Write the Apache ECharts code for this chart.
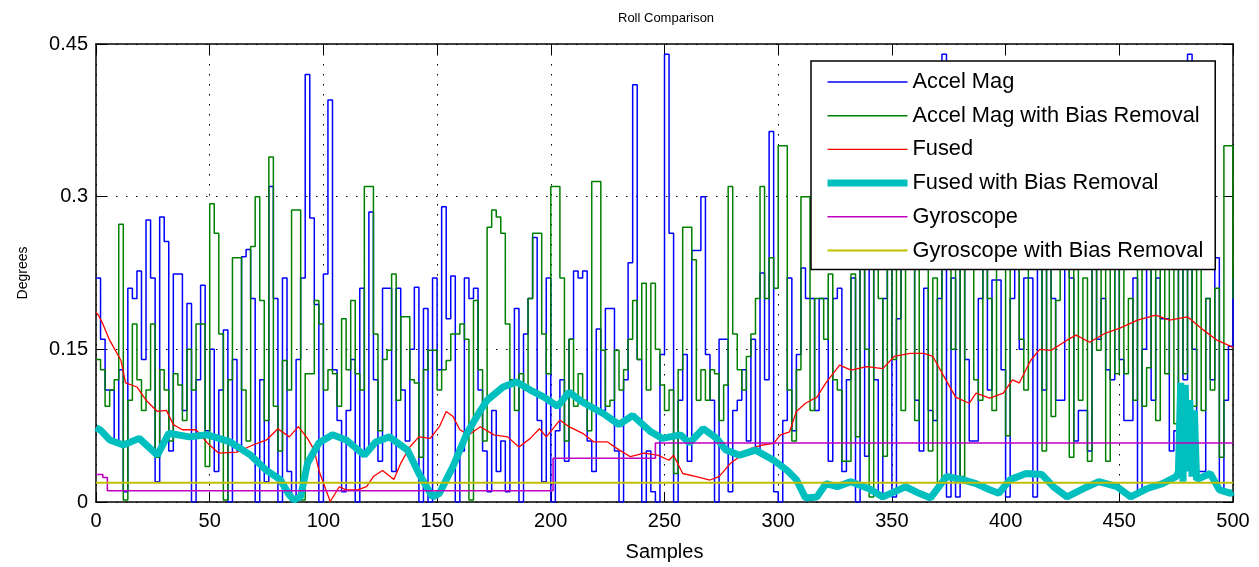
<!DOCTYPE html>
<html>
<head>
<meta charset="utf-8">
<script src="https://cdn.jsdelivr.net/npm/echarts@6/dist/echarts.min.js"></script>
<style>
html, body { margin: 0; padding: 0; background: #fff; }
#chart { width: 1259px; height: 567px; }
</style>
</head>
<body>
<div id="chart"></div>
<script>
// accel arrays are read every 2nd sample (0, 2, 4 ... 500)
const STEP = 2;

const accelMag = [
    0.22, 0.16, 0.11, 0.11, 0.06, 0.13, 0.01, 0.21, 0.20, 0.227,
    0.14, 0.277, 0.22, 0.02, 0.28, 0.256, 0.05, 0.224, 0.224, 0.09,
    0.195, 0.0, 0.12, 0.213, 0.07, 0.15, 0.03, 0.11, 0.169, 0.0,
    0.14, 0.05, 0.241, 0.248, 0.2, 0.0, 0.12, 0.02, 0.31, 0.2,
    0.0, 0.22, 0.03, 0.0, 0.14, 0.22, 0.42, 0.279, 0.194, 0.0,
    0.224, 0.395, 0.13, 0.08, 0.01, 0.09, 0.14, 0.0, 0.21, 0.05,
    0.285, 0.12, 0.04, 0.21, 0.21, 0.03, 0.21, 0.11, 0.06, 0.15,
    0.211, 0.0, 0.19, 0.0, 0.22, 0.13, 0.29, 0.18, 0.222, 0.0,
    0.05, 0.22, 0.20, 0.21, 0.11, 0.05, 0.01, 0.09, 0.03, 0.06,
    0.01, 0.12, 0.19, 0.0, 0.165, 0.2, 0.26, 0.08, 0.02, 0.22,
    0.0, 0.07, 0.12, 0.04, 0.16, 0.227, 0.22, 0.227, 0.06, 0.03,
    0.17, 0.09, 0.19, 0.19, 0.05, 0.0, 0.12, 0.235, 0.41, 0.14,
    0.0, 0.05, 0.01, 0.0, 0.145, 0.44, 0.264, 0.0, 0.1, 0.145,
    0.04, 0.247, 0.247, 0.30, 0.145, 0.10, 0.0, 0.16, 0.16, 0.01,
    0.09, 0.10, 0.13, 0.06, 0.16, 0.05, 0.225, 0.12, 0.364, 0.01,
    0.0, 0.08, 0.22, 0.07, 0.145, 0.23, 0.2, 0.2, 0.09, 0.2,
    0.2, 0.04, 0.2, 0.21, 0.03, 0.12, 0.22, 0.0, 0.25, 0.045,
    0.27, 0.12, 0.005, 0.2, 0.24, 0.005, 0.18, 0.26, 0.24, 0.25,
    0.1, 0.05, 0.21, 0.09, 0.08, 0.2, 0.44, 0.005, 0.22, 0.005,
    0.23, 0.14, 0.06, 0.06, 0.2, 0.26, 0.11, 0.218, 0.218, 0.13,
    0.005, 0.2, 0.24, 0.15, 0.22, 0.22, 0.005, 0.25, 0.11, 0.27,
    0.2, 0.1, 0.1, 0.24, 0.22, 0.06, 0.09, 0.09, 0.05, 0.23,
    0.16, 0.2, 0.13, 0.12, 0.23, 0.14, 0.08, 0.08, 0.22, 0.01,
    0.15, 0.26, 0.1, 0.22, 0.18, 0.18, 0.05, 0.07, 0.25, 0.12,
    0.44, 0.15, 0.03, 0.03, 0.2, 0.12, 0.24, 0.01, 0.1, 0.153,
    0.22
];

const accelMagBias = [
    0.14, 0.13, 0.094, 0.11, 0.12, 0.273, 0.002, 0.10, 0.175, 0.12,
    0.09, 0.11, 0.175, 0.044, 0.13, 0.11, 0.06, 0.126, 0.115, 0.08,
    0.15, 0.11, 0.175, 0.175, 0.035, 0.293, 0.264, 0.165, 0.002, 0.12,
    0.24, 0.24, 0.11, 0.06, 0.251, 0.30, 0.198, 0.08, 0.339, 0.094,
    0.05, 0.139, 0.11, 0.287, 0.287, 0.002, 0.126, 0.126, 0.198, 0.175,
    0.11, 0.13, 0.126, 0.094, 0.18, 0.13, 0.198, 0.126, 0.11, 0.31,
    0.31, 0.165, 0.07, 0.14, 0.149, 0.224, 0.10, 0.182, 0.182, 0.12,
    0.117, 0.044, 0.13, 0.149, 0.149, 0.11, 0.13, 0.139, 0.165, 0.165,
    0.175, 0.16, 0.002, 0.198, 0.13, 0.06, 0.27, 0.287, 0.28, 0.264,
    0.175, 0.12, 0.09, 0.126, 0.11, 0.2, 0.264, 0.264, 0.165, 0.126,
    0.31, 0.31, 0.22, 0.06, 0.16, 0.094, 0.126, 0.1, 0.07, 0.315,
    0.315, 0.149, 0.094, 0.1, 0.149, 0.11, 0.13, 0.16, 0.198, 0.14,
    0.215, 0.11, 0.215, 0.15, 0.115, 0.09, 0.11, 0.028, 0.13, 0.27,
    0.27, 0.238, 0.1, 0.13, 0.1, 0.13, 0.126, 0.08, 0.115, 0.31,
    0.165, 0.13, 0.11, 0.143, 0.165, 0.2, 0.31, 0.2, 0.24, 0.21,
    0.35, 0.35, 0.11, 0.06, 0.13, 0.30, 0.30, 0.09, 0.2, 0.2,
    0.16, 0.224, 0.12, 0.11, 0.04, 0.04, 0.224, 0.064, 0.25, 0.15,
    0.005, 0.26, 0.2, 0.045, 0.25, 0.14, 0.27, 0.09, 0.24, 0.28,
    0.08, 0.26, 0.25, 0.05, 0.22, 0.018, 0.26, 0.3, 0.15, 0.25,
    0.025, 0.27, 0.26, 0.12, 0.1, 0.28, 0.2, 0.09, 0.26, 0.24,
    0.065, 0.25, 0.28, 0.16, 0.11, 0.27, 0.3, 0.26, 0.05, 0.25,
    0.084, 0.198, 0.26, 0.28, 0.044, 0.24, 0.1, 0.22, 0.04, 0.27,
    0.149, 0.25, 0.04, 0.26, 0.126, 0.28, 0.126, 0.2, 0.1, 0.26,
    0.094, 0.132, 0.25, 0.08, 0.27, 0.126, 0.26, 0.077, 0.24, 0.126,
    0.28, 0.094, 0.25, 0.09, 0.2, 0.11, 0.21, 0.044, 0.35, 0.35,
    0.2
];

const fusedX = [0, 1, 3, 6, 11, 13, 18, 22, 27, 31, 34, 38, 44, 49, 54, 62, 69, 75, 80, 85,
    89, 93, 96, 98, 103, 107, 110, 115, 119, 122, 126, 131, 134, 138, 142, 147, 151, 154, 157, 160,
    164, 169, 175, 181, 186, 191, 195, 198, 204, 208, 214, 219, 225, 229, 235, 241, 247, 252, 254, 258,
    264, 270, 274, 279, 283, 288, 293, 298, 301, 305, 308, 312, 317, 321, 327, 332, 339, 346, 351, 358,
    364, 368, 373, 378, 384, 387, 393, 399, 403, 406, 411, 415, 420, 427, 431, 437, 444, 450, 458, 466,
    472, 480, 486, 493, 500];
const fusedY = [0.186, 0.184, 0.175, 0.159, 0.139, 0.117, 0.113, 0.100, 0.089, 0.090, 0.076, 0.071, 0.071, 0.058, 0.048, 0.049, 0.056, 0.061, 0.072, 0.064,
    0.074, 0.0625, 0.051, 0.031, 0.0005, 0.015, 0.012, 0.012, 0.015, 0.025, 0.031, 0.022, 0.038, 0.054, 0.064, 0.0625, 0.074, 0.089, 0.084, 0.071,
    0.066, 0.074, 0.066, 0.064, 0.054, 0.0625, 0.072, 0.064, 0.0805, 0.074, 0.0675, 0.059, 0.059, 0.0527, 0.0445, 0.048, 0.046, 0.041, 0.046, 0.028,
    0.025, 0.0216, 0.025, 0.038, 0.0445, 0.0527, 0.056, 0.0576, 0.066, 0.069, 0.089, 0.097, 0.103, 0.117, 0.1345, 0.1296, 0.133, 0.131, 0.143, 0.146,
    0.146, 0.143, 0.123, 0.103, 0.097, 0.107, 0.102, 0.107, 0.120, 0.117, 0.139, 0.150, 0.149, 0.159, 0.164, 0.157, 0.166, 0.1706, 0.1787, 0.1836,
    0.1787, 0.182, 0.1706, 0.159, 0.152];

const fusedBiasX = [0, 2, 6, 12, 19, 27, 32, 41, 49, 59, 68, 75, 81, 85, 87, 90, 93, 98, 104, 110,
    118, 123, 129, 137, 142, 148, 151, 157, 163, 168, 172, 179, 185, 191, 197, 203, 208, 214, 223, 230,
    236, 244, 249, 257, 261, 267, 273, 277, 283, 290, 298, 304, 308, 312, 317, 321, 326, 332, 340, 346,
    351, 356, 362, 367, 374, 381, 387, 393, 397, 402, 409, 416, 421, 427, 434, 441, 449, 455, 462, 469,
    475, 476, 477, 478, 479, 480, 481, 482, 483, 484, 490, 494, 499, 500];
const fusedBiasY = [0.073, 0.0707, 0.061, 0.056, 0.0625, 0.046, 0.0675, 0.064, 0.066, 0.059, 0.046, 0.031, 0.022, 0.007, 0.002, 0.005, 0.038, 0.058, 0.066, 0.061,
    0.046, 0.059, 0.064, 0.051, 0.028, 0.005, 0.0085, 0.035, 0.067, 0.086, 0.100, 0.113, 0.118, 0.110, 0.103, 0.094, 0.108, 0.098, 0.087, 0.076,
    0.085, 0.069, 0.0625, 0.066, 0.058, 0.072, 0.0625, 0.051, 0.046, 0.051, 0.041, 0.031, 0.022, 0.004, 0.005, 0.018, 0.015, 0.020, 0.013, 0.005,
    0.010, 0.015, 0.0085, 0.004, 0.025, 0.022, 0.018, 0.012, 0.0085, 0.022, 0.028, 0.027, 0.015, 0.005, 0.013, 0.020, 0.015, 0.005, 0.013, 0.018,
    0.025, 0.030, 0.117, 0.020, 0.115, 0.030, 0.100, 0.025, 0.090, 0.022, 0.028, 0.012, 0.0085, 0.010];

const gyroX = [0, 3, 3, 5, 5, 201, 201, 246, 246, 500];
const gyroY = [0.027, 0.027, 0.024, 0.024, 0.011, 0.011, 0.043, 0.043, 0.058, 0.058];

const gyroBiasX = [0, 500];
const gyroBiasY = [0.019, 0.019];

const seriesNames = ['Accel Mag', 'Accel Mag with Bias Removal', 'Fused',
    'Fused with Bias Removal', 'Gyroscope', 'Gyroscope with Bias Removal'];
const seriesColors = ['#0000ff', '#008000', '#ff0000', '#00bfbf', '#bf00bf', '#bfbf00'];
const seriesWidths = [1.5, 1.5, 1.3, 7, 1.6, 2];

const FONT = 'Liberation Sans, Arial, sans-serif';

const pairs = (xs, ys) => xs.map((x, i) => [x, ys[i]]);
const held = (vals) => vals.map((v, i) => [i * STEP, v]);

const seriesData = [
    held(accelMag),
    held(accelMagBias),
    pairs(fusedX, fusedY),
    pairs(fusedBiasX, fusedBiasY),
    pairs(gyroX, gyroY),
    pairs(gyroBiasX, gyroBiasY)
];

const gridLine = { show: true, lineStyle: { color: '#000', width: 1, type: [1.5, 8.5] } };
const frameLine = { show: true, onZero: false, lineStyle: { color: '#000', width: 1.5 } };
const tick = { show: true, inside: true, length: 10, lineStyle: { color: '#000', width: 1 } };
const tickFont = { fontFamily: FONT, fontSize: 20, color: '#000' };

const chartOpt = () => ({
    animation: false,
    backgroundColor: '#fff',
    title: {
        text: 'Roll Comparison',
        left: 613,
        top: 7,
        textStyle: { fontFamily: FONT, fontSize: 13, fontWeight: 'normal', color: '#000' }
    },
    legend: {
        orient: 'vertical',
        left: 811,
        top: 61,
        padding: [10, 12, 8, 13],
        itemWidth: 80,
        itemHeight: 14,
        itemGap: 11.7,
        selectedMode: false,
        backgroundColor: '#fff',
        borderColor: '#000',
        borderWidth: 1.5,
        textStyle: { fontFamily: FONT, fontSize: 21.8, lineHeight: 22, color: '#000' },
        data: seriesNames.map((name, i) => ({
            name: name,
            lineStyle: { color: seriesColors[i], width: seriesWidths[i] }
        }))
    },
    grid: { left: 96, right: 26, top: 44, bottom: 65 },
    xAxis: [
        {
            type: 'value', min: 0, max: 500, interval: 50,
            name: 'Samples', nameLocation: 'middle', nameGap: 40,
            nameTextStyle: { fontFamily: FONT, fontSize: 20, color: '#000' },
            axisLine: frameLine, axisTick: tick,
            axisLabel: Object.assign({ margin: 9 }, tickFont),
            splitLine: gridLine
        },
        {
            type: 'value', position: 'top', min: 0, max: 500, interval: 50,
            axisLine: frameLine, axisTick: tick,
            axisLabel: { show: false }, splitLine: { show: false }
        }
    ],
    yAxis: [
        {
            type: 'value', min: 0, max: 0.45, interval: 0.15,
            name: 'Degrees', nameLocation: 'middle', nameGap: 66,
            nameTextStyle: { fontFamily: FONT, fontSize: 14, color: '#000' },
            axisLine: frameLine, axisTick: tick,
            axisLabel: Object.assign({ margin: 8, formatter: (v) => String(+v.toFixed(2)) }, tickFont),
            splitLine: gridLine
        },
        {
            type: 'value', position: 'right', min: 0, max: 0.45, interval: 0.15,
            axisLine: frameLine, axisTick: tick,
            axisLabel: { show: false }, splitLine: { show: false }
        }
    ],
    series: seriesNames.map((name, i) => ({
        name: name,
        type: 'line',
        xAxisIndex: 0,
        yAxisIndex: 0,
        data: seriesData[i],
        step: i < 2 ? 'end' : false,
        symbol: 'none',
        lineStyle: { color: seriesColors[i], width: seriesWidths[i] },
        // symbol opacity 0 keeps only the line sample in the legend
        itemStyle: { color: seriesColors[i], opacity: 0 }
    }))
});

const rollChart = echarts.init(document.getElementById('chart'));
rollChart.setOption(chartOpt());
</script>
</body>
</html>
